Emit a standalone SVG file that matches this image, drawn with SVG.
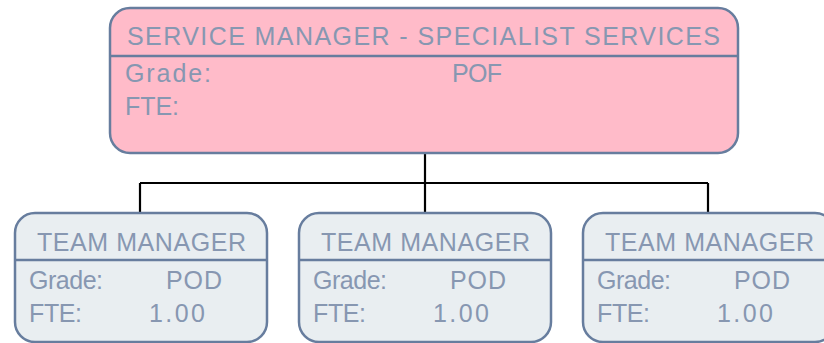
<svg xmlns="http://www.w3.org/2000/svg" width="824" height="343" viewBox="0 0 824 343">
<style>
.box{stroke:#677d9e;stroke-width:2.5}
.top{fill:#ffbbc9}
.sub{fill:#e9eef1}
.div{stroke:#677d9e;stroke-width:2.5}
text{font-family:"Liberation Sans",Arial,sans-serif;fill:#8797b1;font-size:25px}
.conn{stroke:#000;stroke-width:2.2;fill:none}
</style>
<rect width="824" height="343" fill="#fff"/>
<g id="connectors">
<path class="conn" d="M425 153V183M140 183H708M140 183V213M425 183V213M708 183V213"/>
</g>
<g id="node-service-manager">
<rect class="box top" x="110" y="8" width="628" height="145" rx="20"/>
<line class="div" x1="110" y1="56" x2="738" y2="56"/>
<text x="127" y="45" textLength="593" lengthAdjust="spacing" font-size="24">SERVICE MANAGER - SPECIALIST SERVICES</text>
<text x="125" y="82" textLength="86" lengthAdjust="spacing">Grade:</text>
<text x="452" y="82" textLength="50" lengthAdjust="spacing">POF</text>
<text x="125" y="115" textLength="54" lengthAdjust="spacing">FTE:</text>
</g>
<g id="node-team-manager-1">
<rect class="box sub" x="15" y="213" width="252" height="129" rx="20"/>
<line class="div" x1="15" y1="260" x2="267" y2="260"/>
<text x="37" y="251" textLength="209" lengthAdjust="spacing" font-size="25.5">TEAM MANAGER</text>
<text x="29" y="289" textLength="74" lengthAdjust="spacing">Grade:</text>
<text x="166" y="289" textLength="56" lengthAdjust="spacing">POD</text>
<text x="29" y="322" textLength="53" lengthAdjust="spacing">FTE:</text>
<text x="149" y="322" textLength="56" lengthAdjust="spacing">1.00</text>
</g>
<g id="node-team-manager-2">
<rect class="box sub" x="299" y="213" width="252" height="129" rx="20"/>
<line class="div" x1="299" y1="260" x2="551" y2="260"/>
<text x="321" y="251" textLength="209" lengthAdjust="spacing" font-size="25.5">TEAM MANAGER</text>
<text x="313" y="289" textLength="74" lengthAdjust="spacing">Grade:</text>
<text x="450" y="289" textLength="56" lengthAdjust="spacing">POD</text>
<text x="313" y="322" textLength="53" lengthAdjust="spacing">FTE:</text>
<text x="433" y="322" textLength="56" lengthAdjust="spacing">1.00</text>
</g>
<g id="node-team-manager-3">
<rect class="box sub" x="583" y="213" width="252" height="129" rx="20"/>
<line class="div" x1="583" y1="260" x2="835" y2="260"/>
<text x="605" y="251" textLength="209" lengthAdjust="spacing" font-size="25.5">TEAM MANAGER</text>
<text x="597" y="289" textLength="74" lengthAdjust="spacing">Grade:</text>
<text x="734" y="289" textLength="56" lengthAdjust="spacing">POD</text>
<text x="597" y="322" textLength="53" lengthAdjust="spacing">FTE:</text>
<text x="717" y="322" textLength="56" lengthAdjust="spacing">1.00</text>
</g>
</svg>
